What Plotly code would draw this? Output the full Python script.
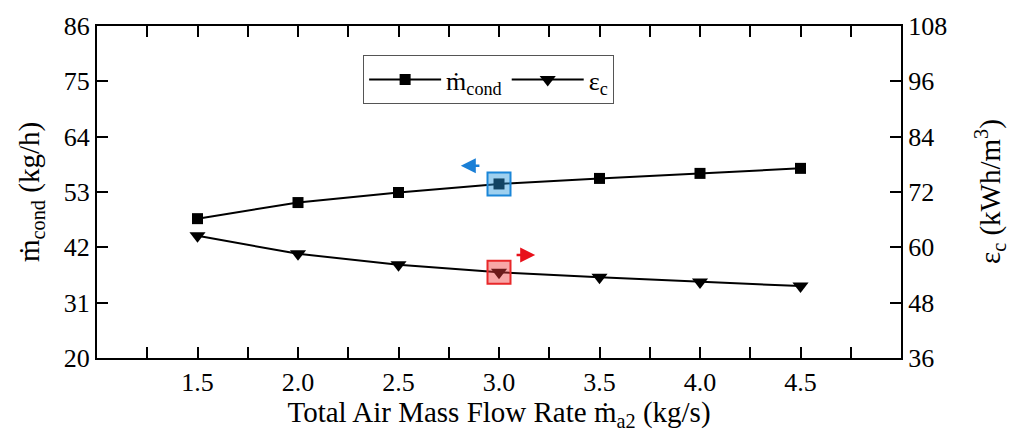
import plotly.graph_objects as go

# ---- data ----
flow_rate = [1.5, 2.0, 2.5, 3.0, 3.5, 4.0, 4.5]
m_cond = [47.7, 50.9, 52.9, 54.6, 55.7, 56.7, 57.7]
eps_c = [62.5, 58.6, 56.2, 54.6, 53.5, 52.5, 51.6]
x_ticks = [1.5, 2.0, 2.5, 3.0, 3.5, 4.0, 4.5]
x_minor = [1.25, 1.75, 2.25, 2.75, 3.25, 3.75, 4.25, 4.75]
y1_ticks = [20, 31, 42, 53, 64, 75, 86]
y2_ticks = [36, 48, 60, 72, 84, 96, 108]
hl = 3  # highlighted index (x = 3.0)

FONT = "Liberation Serif, Times New Roman, serif"
TICK = 26
TITLE = 29

fig = go.Figure()
fig.add_trace(go.Scatter(
    x=flow_rate, y=m_cond, mode="lines+markers", name="ṁ<sub>cond</sub>",
    line=dict(color="black", width=2),
    marker=dict(symbol="square", size=11, color="black"),
    yaxis="y"))
fig.add_trace(go.Scatter(
    x=flow_rate, y=eps_c, mode="lines+markers", name="ε<sub>c</sub>",
    line=dict(color="black", width=2),
    marker=dict(symbol="triangle-down", size=14, color="black"),
    yaxis="y2"))
# highlight boxes
fig.add_trace(go.Scatter(
    x=[flow_rate[hl]], y=[m_cond[hl]], mode="markers", showlegend=False,
    marker=dict(symbol="square", size=23, color="rgba(40,150,220,0.45)",
                line=dict(color="#1a86d8", width=2)),
    yaxis="y", hoverinfo="skip"))
fig.add_trace(go.Scatter(
    x=[flow_rate[hl]], y=[eps_c[hl]], mode="markers", showlegend=False,
    marker=dict(symbol="square", size=23, color="rgba(240,60,60,0.45)",
                line=dict(color="#e8282a", width=2)),
    yaxis="y2", hoverinfo="skip"))

# direction arrows
fig.add_annotation(x=flow_rate[hl] - 0.19, y=m_cond[hl] + 3.6, xref="x", yref="y",
                   ax=flow_rate[hl] - 0.09, ay=m_cond[hl] + 3.6, axref="x", ayref="y",
                   showarrow=True, arrowhead=2, arrowsize=1.2, arrowwidth=2.5,
                   arrowcolor="#1a7fd6", text="")
fig.add_annotation(x=flow_rate[hl] + 0.18, y=eps_c[hl] + 3.75, xref="x", yref="y2",
                   ax=flow_rate[hl] + 0.08, ay=eps_c[hl] + 3.75, axref="x", ayref="y2",
                   showarrow=True, arrowhead=2, arrowsize=1.2, arrowwidth=2.5,
                   arrowcolor="#e8101a", text="")

# y-axis titles
fig.add_annotation(text="ṁ<sub>cond</sub> (kg/h)", xref="paper", yref="paper",
                   x=0, y=0.5, xanchor="center", yanchor="middle", xshift=-66,
                   textangle=-90, showarrow=False,
                   font=dict(family=FONT, size=TITLE, color="black"))
fig.add_annotation(text="ε<sub>c</sub> (kWh/m<sup>3</sup>)", xref="paper", yref="paper",
                   x=1, y=0.5, xanchor="center", yanchor="middle", xshift=89,
                   textangle=-90, showarrow=False,
                   font=dict(family=FONT, size=TITLE, color="black"))

axis_common = dict(showline=True, linecolor="black", linewidth=2, ticks="inside",
                   ticklen=11, tickwidth=2, tickcolor="black", showgrid=False,
                   zeroline=False, tickfont=dict(family=FONT, size=TICK, color="black"))

fig.update_layout(
    width=1020, height=432,
    margin=dict(l=97, r=119, t=24, b=74),
    paper_bgcolor="white", plot_bgcolor="white",
    font=dict(family=FONT, color="black", size=TICK),
    xaxis=dict(range=[1, 5], tickvals=x_ticks, tickformat=".1f", mirror="allticks",
               minor=dict(tickvals=x_minor, ticks="inside", ticklen=6, tickwidth=2,
                          tickcolor="black"),
               title=dict(text="Total Air Mass Flow Rate ṁ<sub>a2</sub> (kg/s)",
                          font=dict(family=FONT, size=TITLE), standoff=2),
               **axis_common),
    yaxis=dict(range=[20, 86], tickvals=y1_ticks, **axis_common),
    yaxis2=dict(range=[36, 108], tickvals=y2_ticks, overlaying="y", side="right",
                **axis_common),
    legend=dict(orientation="h", x=0.331, y=0.912, xanchor="left", yanchor="top",
                bordercolor="#555555", borderwidth=1, bgcolor="white",
                font=dict(family=FONT, size=TICK), itemwidth=72,
                tracegroupgap=0),
    showlegend=True,
)

fig.write_html("out.html")
